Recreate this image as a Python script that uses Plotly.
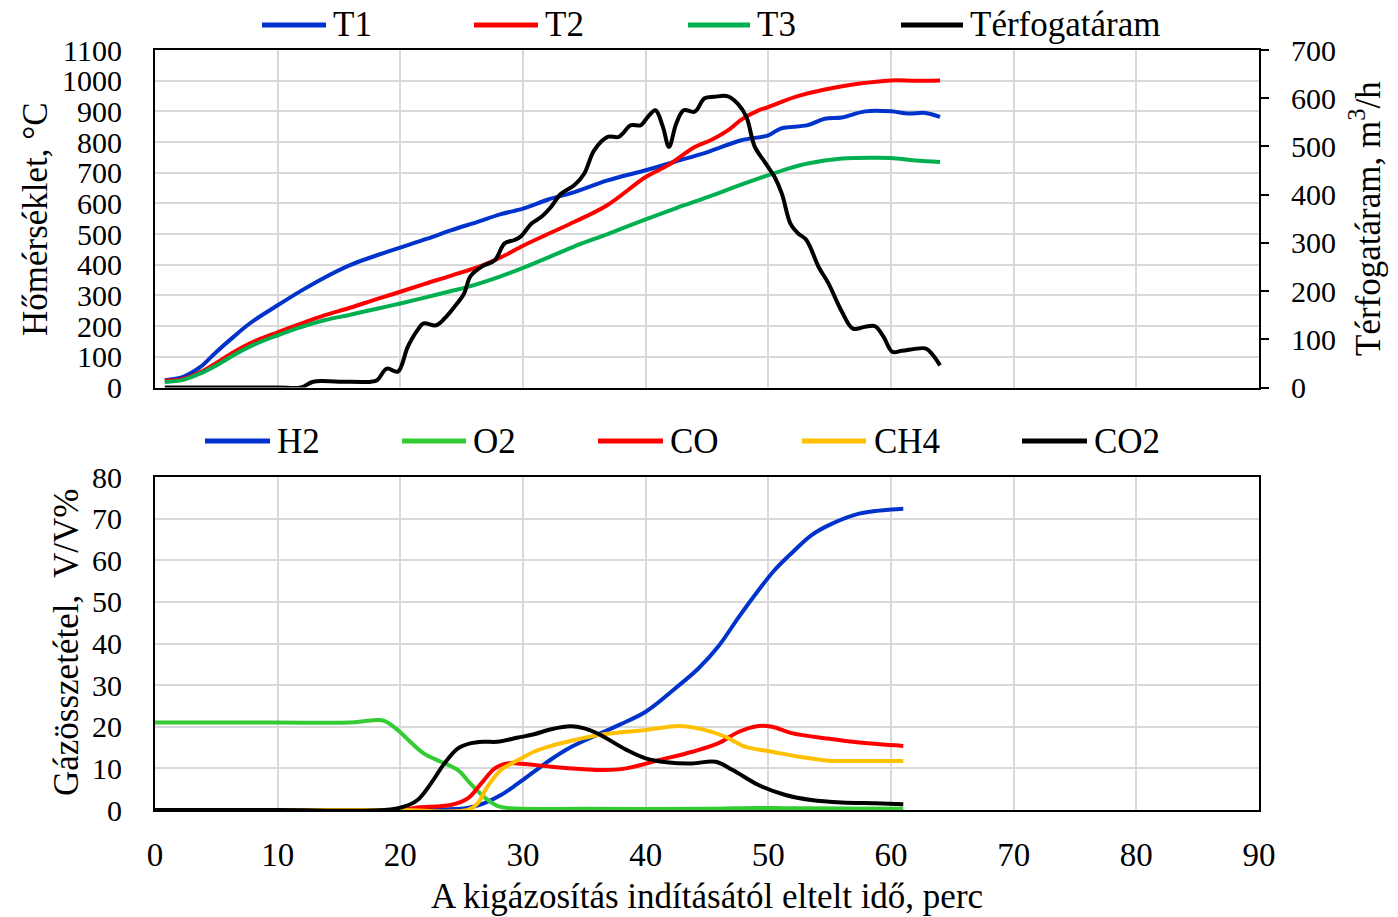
import plotly.graph_objects as go

# ---------------- data ----------------
# upper panel: reactor temperatures (°C) and gas flow rate (m3/h) vs. time (min)
t_T1 = [0.8, 2.3, 3.7, 5.0, 6.4, 7.8, 10.0, 11.9, 13.8, 15.9, 18.1, 20.0, 22.2, 24.1, 26.3, 28.2, 30.0,
        32.0, 34.2, 36.9, 40.0, 42.3, 45.1, 47.8, 50.0, 51.0, 53.2, 54.6, 56.0, 57.9, 60.0, 61.4, 62.8, 64.0]
T1 = [24, 35, 67, 116, 165, 211, 268, 315, 358, 399, 431, 456, 485, 512, 540, 565, 583,
      612, 637, 675, 708, 735, 768, 806, 822, 844, 855, 876, 880, 900, 900, 893, 895, 882]

t_T2 = [0.8, 2.3, 3.7, 5.0, 6.4, 7.8, 10.0, 11.9, 13.8, 15.9, 18.0, 20.0, 22.0, 24.1, 26.8, 28.5, 30.0,
        32.3, 34.2, 36.9, 40.0, 41.8, 44.0, 45.3, 46.7, 47.8, 49.2, 50.0, 52.2, 54.6, 57.3, 60.0, 62.0, 64.0]
T2 = [22, 28, 50, 80, 115, 145, 180, 208, 235, 260, 287, 312, 338, 364, 400, 430, 462,
      505, 540, 595, 686, 724, 784, 806, 838, 873, 903, 914, 947, 971, 990, 1001, 1000, 1001]

t_T3 = [0.8, 2.3, 3.7, 5.0, 6.4, 7.8, 10.0, 11.9, 13.8, 16.0, 18.0, 20.0, 22.0, 24.0, 25.5, 28.0, 30.0,
        32.3, 34.2, 36.9, 40.0, 42.5, 45.1, 47.5, 50.0, 51.5, 53.2, 56.0, 58.7, 60.0, 62.0, 64.0]
T3 = [18, 25, 46, 72, 105, 135, 170, 197, 219, 238, 256, 274, 293, 313, 328, 360, 390,
      428, 460, 500, 548, 585, 621, 657, 692, 712, 730, 746, 749, 748, 740, 735]

t_flow = [0.8, 5.0, 10.0, 11.9, 12.9, 15.0, 17.6, 18.1, 18.9, 19.8, 20.6, 21.4, 21.9, 22.9, 23.6, 24.4,
          25.2, 25.7, 26.6, 27.7, 28.5, 29.3, 29.8, 30.7, 31.5, 32.3, 33.1, 34.2, 35.0, 35.8, 36.9,
          37.8, 38.8, 39.6, 40.2, 40.8, 41.4, 41.9, 42.5, 43.1, 44.0, 44.8, 45.6, 46.7, 47.5, 48.2,
          48.9, 49.7, 50.5, 51.1, 51.8, 52.4, 53.1, 54.1, 54.9, 56.0, 56.9, 57.9, 58.7, 59.4, 60.1,
          60.9, 62.8, 63.3, 64.0]
flow = [0, 0, 0, 0, 12, 12, 12, 15, 39, 33, 84, 119, 133, 129, 143, 167,
        195, 230, 250, 264, 299, 306, 313, 340, 354, 375, 402, 420, 444, 492, 520,
        520, 544, 544, 562, 575, 541, 499, 548, 575, 572, 600, 603, 604, 589, 562,
        499, 468, 437, 402, 340, 320, 306, 250, 216, 157, 122, 126, 127, 105, 74,
        76, 81, 71, 46]

# lower panel: gas composition (V/V%) vs. time (min)
t_H2 = [0, 10, 20, 24.0, 25.5, 26.8, 28.2, 29.6, 30.9, 32.3, 33.7, 35.7, 37.8, 40.0, 42.4, 44.3,
        45.9, 47.6, 49.2, 50.5, 52.0, 53.5, 55.2, 57.4, 60.0, 61.0]
H2 = [0, 0, 0, 0.2, 0.5, 1.6, 3.6, 6.4, 9.2, 12.2, 14.8, 17.6, 20.4, 23.6, 29.2, 34.0,
      39.2, 46.4, 52.8, 57.6, 62.0, 66.0, 68.8, 71.2, 72.2, 72.4]

t_O2 = [0, 5, 10, 15.9, 17.0, 18.1, 18.7, 19.8, 20.8, 21.9, 23.3, 24.7, 25.7, 26.8, 27.9, 29.0,
        35.0, 45.0, 49.0, 52.0, 61.0]
O2 = [21.0, 21.0, 21.0, 21.0, 21.3, 21.6, 21.4, 19.2, 16.4, 13.6, 11.6, 9.6, 6.4, 3.2, 1.0, 0.4,
      0.3, 0.3, 0.5, 0.4, 0.3]

t_CO = [0, 10, 20, 21.4, 24.1, 25.5, 26.6, 27.7, 28.7, 29.6, 32.3, 35.0, 36.5, 38.4, 41.1, 43.8,
        45.9, 47.6, 49.2, 50.3, 52.0, 54.7, 57.4, 61.0]
CO = [0, 0, 0, 0.6, 1.2, 2.8, 6.4, 10.0, 11.2, 11.2, 10.4, 9.8, 9.6, 10.0, 12.0, 14.0,
      16.0, 18.8, 20.2, 20.0, 18.4, 17.2, 16.2, 15.4]

t_CH4 = [0, 10, 20, 25.5, 26.3, 27.1, 28.2, 29.6, 30.9, 32.3, 34.2, 36.2, 38.4, 40.0, 42.7, 44.3,
         46.5, 48.1, 50.3, 52.5, 55.2, 57.4, 61.0]
CH4 = [0, 0, 0, 0, 1.6, 5.6, 9.6, 12.0, 14.0, 15.4, 16.8, 18.0, 18.8, 19.2, 20.2, 19.6,
       17.6, 15.2, 14.0, 12.8, 11.8, 11.8, 11.8]

t_CO2 = [0, 10, 18.7, 20.3, 21.4, 22.5, 23.6, 24.7, 25.7, 26.8, 27.9, 29.6, 30.9, 32.3, 33.9, 35.0,
         36.2, 38.4, 40.0, 41.9, 43.8, 45.7, 47.1, 49.2, 51.4, 53.5, 56.0, 58.7, 61.0]
CO2 = [0, 0, 0, 0.8, 2.4, 6.4, 11.2, 14.8, 16.0, 16.4, 16.4, 17.4, 18.2, 19.4, 20.1, 19.6,
       18.2, 14.5, 12.4, 11.4, 11.2, 11.6, 9.6, 6.0, 3.6, 2.4, 1.8, 1.6, 1.4]

top_names = ["T1", "T2", "T3", "Térfogatáram"]
top_colors = ["#0033CC", "#FF0000", "#00B050", "#000000"]
gas_names = ["H2", "O2", "CO", "CH4", "CO2"]
gas_colors = ["#0033CC", "#33CC33", "#FF0000", "#FFC000", "#000000"]

x_ticks = list(range(0, 91, 10))
temp_ticks = list(range(0, 1101, 100))
flow_ticks = list(range(0, 701, 100))
gas_ticks = list(range(0, 81, 10))

# ---------------- geometry helpers ----------------
W, H = 1398, 917
PL, PR, PT, PB = 155, 1259, 50, 810          # plotting rectangle in pixels


def px(x):
    return (x - PL) / (PR - PL)


def py(y):
    return (PB - y) / (PB - PT)


FONT = "Liberation Serif, Times New Roman, serif"
LW = 4

fig = go.Figure()

top_series = [(t_T1, T1, "y"), (t_T2, T2, "y"), (t_T3, T3, "y"), (t_flow, flow, "y2")]
for (tx, ty, ax), name, col in zip(top_series, top_names, top_colors):
    fig.add_trace(go.Scatter(x=tx, y=ty, name=name, mode="lines", xaxis="x", yaxis=ax,
                             line=dict(color=col, width=LW, shape="spline", smoothing=1.0),
                             showlegend=False))

gas_series = [(t_H2, H2), (t_O2, O2), (t_CO, CO), (t_CH4, CH4), (t_CO2, CO2)]
for (tx, ty), name, col in zip(gas_series, gas_names, gas_colors):
    fig.add_trace(go.Scatter(x=tx, y=ty, name=name, mode="lines", xaxis="x2", yaxis="y3",
                             line=dict(color=col, width=LW, shape="spline", smoothing=1.0),
                             showlegend=False))

grid = "#D9D9D9"
common_x = dict(range=[0, 90], tickvals=x_ticks, showgrid=True, gridcolor=grid, gridwidth=2,
                zeroline=False, showline=True, linecolor="black", linewidth=2, mirror=True,
                ticks="")
common_y = dict(showgrid=True, gridcolor=grid, gridwidth=2, zeroline=False, showline=True,
                linecolor="black", linewidth=2, ticks="")

top_dom = [py(387.5), 1.0]
bot_dom = [0.0, py(477)]

fig.update_layout(
    width=W, height=H,
    margin=dict(l=PL, r=W - PR, t=PT, b=H - PB),
    paper_bgcolor="white", plot_bgcolor="white",
    font=dict(family=FONT, size=30, color="black"),
    xaxis=dict(common_x, domain=[0, 1], anchor="y", showticklabels=False),
    yaxis=dict(common_y, domain=top_dom, range=[0, 1100], tickvals=temp_ticks, mirror=True,
               ticklabelstandoff=25, tickfont=dict(size=30)),
    yaxis2=dict(range=[0, 700], tickvals=flow_ticks, overlaying="y", side="right", anchor="x",
                showgrid=False, zeroline=False, showline=True, linecolor="black", linewidth=2,
                ticks="outside", ticklen=8, tickwidth=2, tickcolor="black",
                ticklabelstandoff=16, tickfont=dict(size=30)),
    xaxis2=dict(common_x, domain=[0, 1], anchor="y3", tickfont=dict(size=33),
                ticklabelstandoff=14),
    yaxis3=dict(common_y, domain=bot_dom, range=[0, 80], tickvals=gas_ticks, mirror=True,
                anchor="x2", ticklabelstandoff=25, tickfont=dict(size=30)),
)

annotations = []
shapes = []

# axis titles
annotations.append(dict(text="Hőmérséklet, °C", xref="paper", yref="paper", x=px(36), y=py(219),
                        textangle=-90, showarrow=False, xanchor="center", yanchor="middle",
                        font=dict(size=35)))
annotations.append(dict(text="Térfogatáram, m<sup>3</sup>/h", xref="paper", yref="paper",
                        x=px(1366), y=py(219), textangle=-90, showarrow=False,
                        xanchor="center", yanchor="middle", font=dict(size=35)))
annotations.append(dict(text="Gázösszetétel,\u00a0 V/V%", xref="paper", yref="paper", x=px(66),
                        y=py(643), textangle=-90, showarrow=False, xanchor="center",
                        yanchor="middle", font=dict(size=35)))
annotations.append(dict(text="A kigázosítás indításától eltelt idő, perc", xref="paper",
                        yref="paper", x=px(707), y=py(896), showarrow=False, xanchor="center",
                        yanchor="middle", font=dict(size=35)))

# legends drawn as line samples with labels
top_leg = [(262, 326, 331), (474, 538, 543), (688, 750, 755), (901, 963, 968)]
for (x0, x1, xt), name, col in zip(top_leg, top_names, top_colors):
    shapes.append(dict(type="line", xref="paper", yref="paper", x0=px(x0), x1=px(x1),
                       y0=py(25), y1=py(25), line=dict(color=col, width=5)))
    annotations.append(dict(text=name, xref="paper", yref="paper", x=px(xt), y=py(25),
                            showarrow=False, xanchor="left", yanchor="middle",
                            font=dict(size=35)))

bot_leg = [(205, 270, 275), (402, 466, 471), (598, 663, 668), (802, 866, 872), (1022, 1087, 1092)]
for (x0, x1, xt), name, col in zip(bot_leg, gas_names, gas_colors):
    shapes.append(dict(type="line", xref="paper", yref="paper", x0=px(x0), x1=px(x1),
                       y0=py(441), y1=py(441), line=dict(color=col, width=5)))
    annotations.append(dict(text=name, xref="paper", yref="paper", x=px(xt), y=py(441),
                            showarrow=False, xanchor="left", yanchor="middle",
                            font=dict(size=35)))

fig.update_layout(annotations=annotations, shapes=shapes)

fig.write_html("out.html")
